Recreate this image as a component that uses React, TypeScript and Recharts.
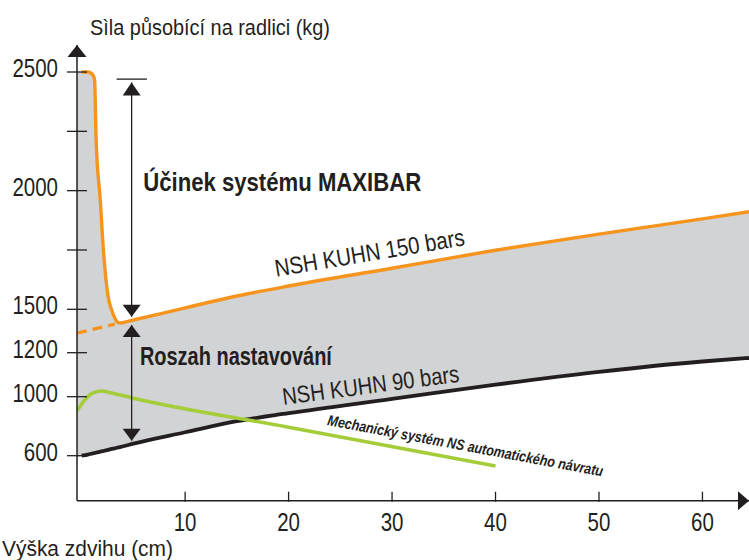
import { ComposedChart, Area, Line, XAxis, YAxis, ReferenceDot, ReferenceLine, Label } from "recharts";

// stroke-height in cm (x) and force in kg (y)
const X_CM = [-0.45, 0, 0.6, 1.1, 1.25, 1.4, 1.8, 2.1, 2.55, 2.9, 3.2, 3.4, 3.7, 5, 10, 15, 20, 30, 40, 50, 60, 64.5];
const KUHN_150 = [2500, 2500, 2500, 2487, 2466, 2213, 1960, 1750, 1556, 1495, 1440, 1416, 1405, 1426, 1506, 1556, 1598, 1673, 1749, 1817, 1881, 1911];
const KUHN_90 = [585, 600, 608, 616, 618, 621, 627, 632, 640, 646, 650, 654, 658, 682, 759, 834, 888, 985, 1055, 1113, 1160, 1176];

const MECH_X = [-0.45, 0.3, 1.0, 1.9, 2.9, 4.8, 20, 40];
const MECH_KG = [903, 978, 1015, 1026, 1017, 993, 793, 530];

const DASH_X = [-0.45, 3.2];
const DASH_KG = [1335, 1398];

const X_TICKS = [10, 20, 30, 40, 50, 60];
const Y_TICKS = [600, 1000, 1200, 1500, 2000, 2500];
const Y_MINOR = [1750, 2250];

// the force axis is schematic: each stretch between labels has its own step
const KG_STOPS = [295, 600, 1000, 1200, 1500, 2500, 2614];
const AXIS_STOPS = [0, 45, 104, 148, 191.4, 428.7, 455.7];

function toAxis(kg: number) {
  const n = KG_STOPS.length;
  let i = 0;
  while (i < n - 2 && kg > KG_STOPS[i + 1]) i++;
  const k0 = KG_STOPS[i], k1 = KG_STOPS[i + 1];
  const a0 = AXIS_STOPS[i], a1 = AXIS_STOPS[i + 1];
  return a0 + ((kg - k0) / (k1 - k0)) * (a1 - a0);
}

const table = X_CM.map((x, i) => ({ x, k150: KUHN_150[i], k90: KUHN_90[i] }));
const mech = MECH_X.map((x, i) => ({ x, kg: MECH_KG[i] }));
const dashed = DASH_X.map((x, i) => ({ x, kg: DASH_KG[i] }));

const yLabels = new Map(Y_TICKS.map((t) => [toAxis(t), String(t)]));

const INK = "#231f20";
const ORANGE = "#f7941d";
const GREEN = "#a4cd39";
const GREY = "#d1d3d4";
const FONT = "'Liberation Sans', Arial, sans-serif";
const DIGIT_W = 11.4;

const ARROW_X = 4.83;

const notes = [
  { x: 5.95, kg: 2000, text: "Účinek systému MAXIBAR", angle: 0, size: 25, len: 278, weight: 700, italic: false },
  { x: 5.63, kg: 1144, text: "Roszah nastavování", angle: 0, size: 25, len: 192, weight: 700, italic: false },
  { x: 18.8, kg: 1637, text: "NSH KUHN 150 bars", angle: -9.5, size: 24, len: 192, weight: 400, italic: false },
  { x: 19.5, kg: 944, text: "NSH KUHN 90 bars", angle: -7.5, size: 24, len: 178, weight: 400, italic: false },
  { x: 23.7, kg: 808, text: "Mechanický systém NS automatického návratu", angle: 10.6, size: 15, len: 280, weight: 700, italic: true },
];

function YTick(props: any) {
  const { x, y, payload } = props;
  const label = yLabels.get(payload.value);
  return (
    <g>
      <line x1={x - 10} x2={x + 10} y1={y} y2={y} stroke={INK} strokeWidth={1.3} />
      {label && (
        <text
          x={x - 19}
          y={y + 5}
          textAnchor="end"
          fontSize={25}
          fill={INK}
          fontFamily={FONT}
          textLength={label.length * DIGIT_W}
          lengthAdjust="spacingAndGlyphs"
        >
          {label}
        </text>
      )}
    </g>
  );
}

function XTick(props: any) {
  const { x, y, payload } = props;
  const label = String(payload.value);
  return (
    <g>
      <line x1={x} x2={x} y1={y - 9} y2={y + 1} stroke={INK} strokeWidth={1.3} />
      <text
        x={x}
        y={y + 30}
        textAnchor="middle"
        fontSize={25}
        fill={INK}
        fontFamily={FONT}
        textLength={label.length * DIGIT_W}
        lengthAdjust="spacingAndGlyphs"
      >
        {label}
      </text>
    </g>
  );
}

function head(dir: "up" | "down" | "right", w: number, h: number) {
  return (p: any) => {
    const { cx, cy } = p;
    let d = "";
    if (dir === "up") d = `M${cx},${cy} L${cx - w / 2},${cy + h} L${cx + w / 2},${cy + h} Z`;
    if (dir === "down") d = `M${cx},${cy} L${cx - w / 2},${cy - h} L${cx + w / 2},${cy - h} Z`;
    if (dir === "right") d = `M${cx},${cy} L${cx - h},${cy - w / 2} L${cx - h},${cy + w / 2} Z`;
    return <path d={d} fill={INK} />;
  };
}

function note(n: (typeof notes)[number]) {
  return (p: any) => (
    <text
      x={p.cx}
      y={p.cy}
      transform={n.angle ? `rotate(${n.angle} ${p.cx} ${p.cy})` : undefined}
      fontSize={n.size}
      fontWeight={n.weight}
      fontStyle={n.italic ? "italic" : "normal"}
      fontFamily={FONT}
      fill={INK}
      textLength={n.len}
      lengthAdjust="spacingAndGlyphs"
    >
      {n.text}
    </text>
  );
}

export default function App() {
  const yDomain = [toAxis(KG_STOPS[0]), toAxis(KG_STOPS[KG_STOPS.length - 1])];
  return (
    <div style={{ position: "absolute", left: 0, top: 0, width: 749, height: 560, background: "#fff" }}>
      <ComposedChart width={749} height={560} data={table} margin={{ top: 45, right: 0, bottom: 58.3, left: 76 }}>
        <Area
          dataKey={(d: any) => [toAxis(d.k90), toAxis(d.k150)]}
          type="monotone"
          stroke="none"
          fill={GREY}
          fillOpacity={1}
          isAnimationActive={false}
        />
        <Line
          data={dashed}
          dataKey={(d: any) => toAxis(d.kg)}
          type="linear"
          stroke={ORANGE}
          strokeWidth={3.4}
          strokeDasharray="10 6"
          dot={false}
          isAnimationActive={false}
        />
        <Line
          data={table.slice(1)}
          dataKey={(d: any) => toAxis(d.k90)}
          type="monotone"
          stroke={INK}
          strokeWidth={3.8}
          dot={false}
          isAnimationActive={false}
        />
        <Line
          data={mech}
          dataKey={(d: any) => toAxis(d.kg)}
          type="monotone"
          stroke={GREEN}
          strokeWidth={3.6}
          dot={false}
          isAnimationActive={false}
        />
        <Line
          data={table.slice(1)}
          dataKey={(d: any) => toAxis(d.k150)}
          type="monotone"
          stroke={ORANGE}
          strokeWidth={3.4}
          dot={false}
          isAnimationActive={false}
        />

        <XAxis
          type="number"
          dataKey="x"
          domain={[-0.45, 64.5]}
          allowDataOverflow
          ticks={X_TICKS}
          interval={0}
          height={1}
          tickSize={0}
          tickMargin={0}
          tickLine={false}
          axisLine={{ stroke: INK, strokeWidth: 1.5 }}
          tick={(p: any) => <XTick {...p} />}
        >
          <Label
            content={(p: any) => (
              <text
                x={p.viewBox.x - 75}
                y={p.viewBox.y + 55}
                fontSize={22}
                fill={INK}
                fontFamily={FONT}
                textLength={171}
                lengthAdjust="spacingAndGlyphs"
              >
                Výška zdvihu (cm)
              </text>
            )}
          />
        </XAxis>
        <YAxis
          type="number"
          domain={yDomain}
          allowDataOverflow
          ticks={[...Y_TICKS, ...Y_MINOR].map(toAxis)}
          interval={0}
          width={1}
          tickSize={0}
          tickMargin={0}
          tickLine={false}
          axisLine={{ stroke: INK, strokeWidth: 1.5 }}
          tick={(p: any) => <YTick {...p} />}
        >
          <Label
            content={(p: any) => (
              <text
                x={p.viewBox.x + 14}
                y={p.viewBox.y - 10}
                fontSize={22}
                fill={INK}
                fontFamily={FONT}
                textLength={240}
                lengthAdjust="spacingAndGlyphs"
              >
                Sìla působící na radlici (kg)
              </text>
            )}
          />
        </YAxis>

        <ReferenceLine segment={[{ x: ARROW_X, y: toAxis(2456) }, { x: ARROW_X, y: toAxis(1449) }]} stroke={INK} strokeWidth={1.3} />
        <ReferenceLine segment={[{ x: 3.38, y: toAxis(2470) }, { x: 6.31, y: toAxis(2470) }]} stroke={INK} strokeWidth={1.3} />
        <ReferenceLine segment={[{ x: ARROW_X, y: toAxis(1391) }, { x: ARROW_X, y: toAxis(702) }]} stroke={INK} strokeWidth={1.3} />
        <ReferenceDot x={ARROW_X} y={toAxis(2456)} r={0} ifOverflow="visible" shape={head("up", 18, 13)} />
        <ReferenceDot x={ARROW_X} y={toAxis(1449)} r={0} ifOverflow="visible" shape={head("down", 18, 12)} />
        <ReferenceDot x={ARROW_X} y={toAxis(1391)} r={0} ifOverflow="visible" shape={head("up", 18, 12)} />
        <ReferenceDot x={ARROW_X} y={toAxis(702)} r={0} ifOverflow="visible" shape={head("down", 18, 12)} />
        <ReferenceDot x={-0.45} y={yDomain[1]} r={0} ifOverflow="visible" shape={head("up", 19, 12)} />
        <ReferenceDot x={64.5} y={yDomain[0]} r={0} ifOverflow="visible" shape={head("right", 19, 11)} />

        {notes.map((n) => (
          <ReferenceDot key={n.text} x={n.x} y={toAxis(n.kg)} r={0} ifOverflow="visible" shape={note(n)} />
        ))}
      </ComposedChart>
    </div>
  );
}
